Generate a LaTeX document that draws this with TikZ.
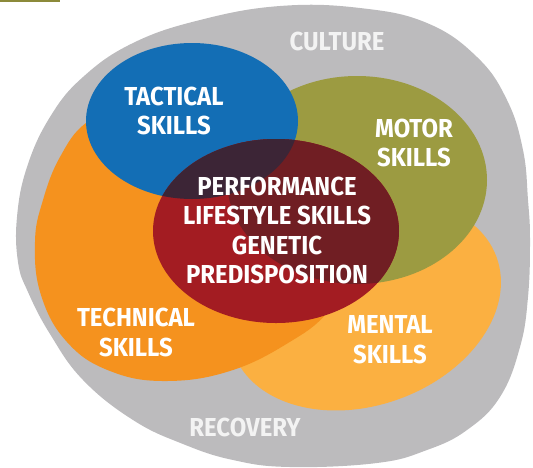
\documentclass[tikz,border=0pt]{standalone}
\usepackage{fontspec}
\setmainfont{Fira Sans}[FakeStretch=0.92]
\definecolor{grayc}{HTML}{BCBBBD}
\definecolor{bluec}{HTML}{136EB5}
\definecolor{olivec}{HTML}{9C9B41}
\definecolor{orangec}{HTML}{F5921E}
\definecolor{mentalc}{HTML}{FBB041}
\definecolor{redc}{HTML}{A31C22}
\definecolor{redolive}{HTML}{701E23}
\definecolor{redblue}{HTML}{3C2536}
\definecolor{barc}{HTML}{8C8A3A}
\definecolor{outtext}{HTML}{F3F3F3}
\begin{document}
\begin{tikzpicture}[x=1pt,y=-1pt,
  lbl/.style={font=\bfseries\fontsize{26}{29.5}\selectfont, text=white, align=center, inner sep=0pt},
  outlbl/.style={lbl, text=outtext}]
\useasboundingbox (0,0) rectangle (533,467);
\fill[barc] (0,0) rectangle (60,2);
% outer blob
\fill[grayc] plot[smooth cycle, tension=0.7] coordinates {
  (280,6) (200,20) (133,43) (83,77) (50,117) (27,167) (17,217) (18,262)
  (28,292) (50,334) (83,380) (133,420) (183,444) (233,460) (290,467)
  (377,463) (427,450) (467,430) (500,397) (520,347) (528,297) (530,240)
  (528,200) (523,150) (507,100) (477,57) (427,23) (360,8)};
% mental
\fill[mentalc, rotate around={20:(365,305)}] (365,305) ellipse [x radius=140, y radius=100];
% motor
\fill[olivec] (357,180) ellipse [x radius=130, y radius=104];
% technical
\fill[orangec] plot[smooth cycle, tension=0.7] coordinates {
  (86,123) (60,157) (43,200) (35,242) (41,295) (67,342) (110,371) (167,381)
  (233,370) (293,340) (327,313) (348,280) (352,240) (330,190) (270,140)
  (190,110) (125,108)};
% tactical
\fill[bluec] (192,121) ellipse [x radius=106, y radius=78];
% centre
\fill[redc] (276,231) ellipse [x radius=123, y radius=92];
\begin{scope}
  \clip (357,180) ellipse [x radius=130, y radius=104];
  \fill[redolive] (276,231) ellipse [x radius=123, y radius=92];
\end{scope}
\begin{scope}
  \clip (192,121) ellipse [x radius=106, y radius=78];
  \fill[redblue] (276,231) ellipse [x radius=123, y radius=92];
\end{scope}
% labels
\node[outlbl] (culture) at (337,41) {CULTURE};
\node[outlbl] (recovery) at (245,427) {RECOVERY};
\node[lbl] (tactical) at (174,111) {TACTICAL\\SKILLS};
\node[lbl] (motor) at (414,143) {MOTOR\\SKILLS};
\node[lbl] (core) at (277,230.5) {PERFORMANCE\\LIFESTYLE SKILLS\\GENETIC\\PREDISPOSITION};
\node[lbl] (technical) at (136,332.5) {TECHNICAL\\SKILLS};
\node[lbl] (mental) at (390,339.5) {MENTAL\\SKILLS};
\end{tikzpicture}
\end{document}
